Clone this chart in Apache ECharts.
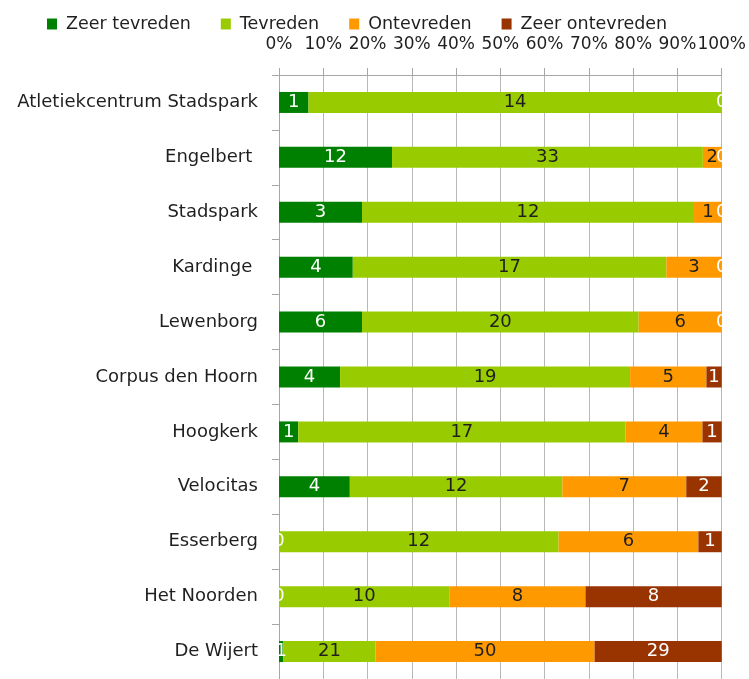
<!DOCTYPE html>
<html>
<head>
<meta charset="utf-8">
<script src="https://cdn.jsdelivr.net/npm/echarts@6/dist/echarts.min.js"></script>
<style>
html,body{margin:0;padding:0;background:#fff;}
#chart{width:749px;height:679px;}
</style>
</head>
<body>
<div id="chart"></div>
<script>
const categories = ['Atletiekcentrum Stadspark','Engelbert ','Stadspark','Kardinge ','Lewenborg','Corpus den Hoorn','Hoogkerk','Velocitas','Esserberg','Het Noorden','De Wijert'];
const seriesNames = ['Zeer tevreden','Tevreden','Ontevreden','Zeer ontevreden'];
const zeerTevreden   = [1, 12, 3, 4, 6, 4, 1, 4, 0, 0, 1];
const tevreden       = [14, 33, 12, 17, 20, 19, 17, 12, 12, 10, 21];
const ontevreden     = [null, 2, 1, 3, 6, 5, 4, 7, 6, 8, 50];
const zeerOntevreden = [0, 0, 0, 0, 0, 1, 1, 2, 1, 8, 29];
const xTickValues = [0,10,20,30,40,50,60,70,80,90,100];

const counts = [zeerTevreden, tevreden, ontevreden, zeerOntevreden];
const colors = ['#008000','#99CC00','#FF9900','#993300'];
const labelColors = ['#ffffff','#1f1f1f','#1f1f1f','#ffffff'];
const totals = categories.map((c,i)=>counts.reduce((s,arr)=>s+(arr[i]==null?0:arr[i]),0));
const FONT = 'DejaVu Sans';

const chart = echarts.init(document.getElementById('chart'), null, {renderer:'canvas'});
chart.setOption({
  animation:false,
  textStyle:{fontFamily:FONT},
  legend:{
    data:seriesNames,
    left:42, top:10,
    itemWidth:10, itemHeight:11, itemGap:30,
    icon:'rect',
    textStyle:{fontFamily:FONT,fontSize:17.5,color:'#1f1f1f',padding:[0,0,0,4]}
  },
  grid:{left:279,right:27,top:75,height:607,containLabel:false},
  xAxis:{
    type:'value', position:'top', min:0, max:100, interval:10,
    axisLine:{show:true,lineStyle:{color:'#a6a6a6',width:1}},
    axisTick:{show:true,length:7,lineStyle:{color:'#a6a6a6'}},
    splitLine:{show:true,lineStyle:{color:'#b8b8b8',width:1}},
    axisLabel:{fontFamily:FONT,fontSize:17,color:'#1f1f1f',margin:22,
      formatter:v=>xTickValues.includes(v)?v+'%':''}
  },
  yAxis:{
    type:'category', data:categories, inverse:true,
    axisLine:{show:true,lineStyle:{color:'#a6a6a6',width:1}},
    axisTick:{show:true,length:7,lineStyle:{color:'#a6a6a6'}},
    splitLine:{show:false},
    axisLabel:{fontFamily:FONT,fontSize:18,color:'#1f1f1f',margin:21}
  },
  series:counts.map((arr,si)=>({
    name:seriesNames[si], type:'bar', stack:'total', barWidth:21,
    itemStyle:{color:colors[si]},
    label:{show:true,position:'inside',fontFamily:FONT,fontSize:18,color:labelColors[si],
      formatter:p=>{const v=arr[p.dataIndex];return v==null?'':String(v);}},
    data:arr.map((v,i)=>v==null?null:v/totals[i]*100)
  }))
});
</script>
</body>
</html>
